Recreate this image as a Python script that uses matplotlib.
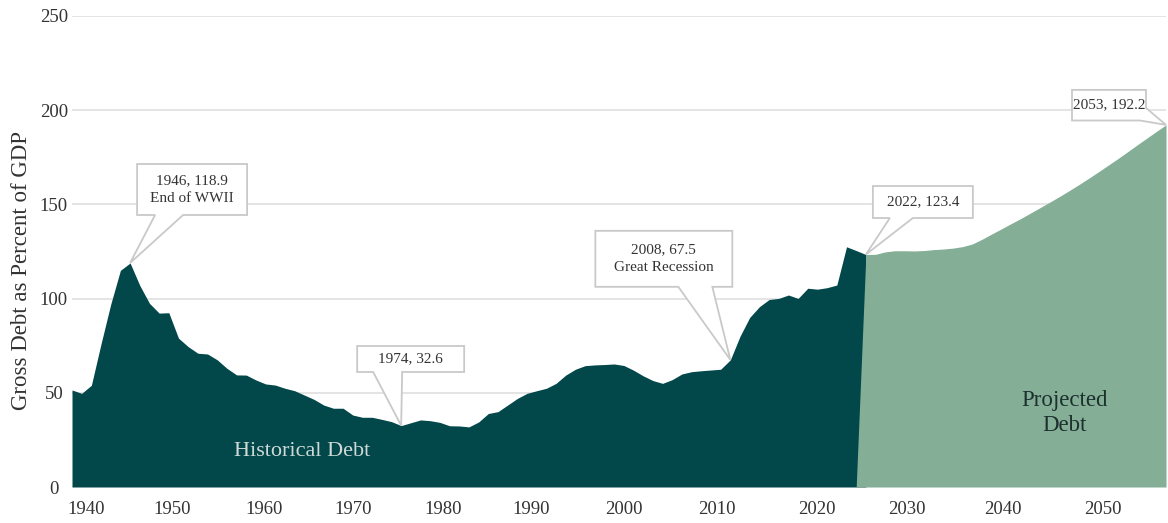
import matplotlib
matplotlib.use("Agg")
import matplotlib.pyplot as plt
import matplotlib.transforms as mtransforms
from matplotlib.patches import Polygon

# ---------------- data ----------------
hist_years = list(range(1940, 2023))
hist_vals = [51.5, 49.7, 54.0, 76.0, 97.0, 115.0, 118.9, 107.0, 97.5, 92.3,
             92.5, 79.0, 74.5, 71.0, 70.6, 67.5, 63.0, 59.5, 59.4, 56.8,
             54.7, 54.1, 52.4, 51.1, 48.8, 46.5, 43.5, 41.8, 41.8, 38.2,
             37.0, 37.0, 35.9, 34.7, 32.6, 34.1, 35.6, 35.2, 34.3, 32.5,
             32.4, 31.9, 34.5, 39.0, 40.0, 43.5, 47.0, 49.7, 51.1, 52.4,
             55.0, 59.4, 62.5, 64.4, 64.8, 65.0, 65.3, 64.5, 62.0, 59.0,
             56.5, 55.0, 57.0, 60.0, 61.2, 61.7, 62.1, 62.5, 67.5, 80.0,
             90.0, 95.7, 99.5, 100.1, 101.9, 100.1, 105.5, 105.0, 105.8, 107.2,
             127.5, 125.5, 123.4]

proj_years = list(range(2021, 2054))
proj_vals = [0.0, 123.4, 123.5, 124.8, 125.4, 125.4, 125.3, 125.5, 126.0, 126.3,
             126.8, 127.6, 129.0, 131.5, 134.3, 137.0, 139.8, 142.5, 145.4, 148.3,
             151.2, 154.2, 157.3, 160.5, 163.8, 167.2, 170.7, 174.2, 177.8, 181.5,
             185.1, 188.7, 192.2]

ann_years = [1946, 1974, 2008, 2022, 2053]
ann_vals = [118.9, 32.6, 67.5, 123.4, 192.2]
ann_texts = ["1946, 118.9\nEnd of WWII", "1974, 32.6",
             "2008, 67.5\nGreat Recession", "2022, 123.4", "2053, 192.2"]

y_ticks = [0, 50, 100, 150, 200, 250]
x_tick_labels = ["1940", "1950", "1960", "1970", "1980", "1990",
                 "2000", "2010", "2020", "2030", "2040", "2050"]

# ---------------- layout / style ----------------
FONT = ["Liberation Serif", "DejaVu Serif"]
plt.rcParams["font.family"] = FONT
DARK = "#02474A"
LIGHT = "#85AE97"
GRID = "#e2e2e2"
TXT = "#333333"

W, H = 1168, 523
fig = plt.figure(figsize=(W / 100, H / 100), dpi=100)
ax = fig.add_axes([72 / W, 36 / H, 1094 / W, 471 / H])
ax.set_xlim(1940, 2053)
ax.set_ylim(0, 250)

ax.fill_between(hist_years, hist_vals, 0, color=DARK, lw=0, zorder=2)
ax.fill_between(proj_years, proj_vals, 0, color=LIGHT, lw=0, zorder=3)

for s in ax.spines.values():
    s.set_visible(False)
ax.set_yticks(y_ticks)
ax.yaxis.grid(True, color=GRID, lw=1.3, zorder=0)
ax.set_axisbelow(True)
ax.tick_params(axis="y", length=0, pad=13, labelsize=13.5, labelcolor=TXT)
for lbl in ax.get_yticklabels():
    lbl.set_horizontalalignment("center")

# x tick labels (placed at the reference's label positions, in pixel terms)
label_px = [85.7, 172.4, 263.7, 352.7, 443.2, 530.7, 623.5, 717.3, 816.4, 906.9, 1002.6, 1102.4]
tick_pos = [1940 + (p - 72) / 1094 * 113 for p in label_px]
ax.set_xticks(tick_pos)
ax.set_xticklabels(x_tick_labels)
ax.tick_params(axis="x", length=0, pad=10, labelsize=13.5, labelcolor=TXT)

ax.set_ylabel("Gross Debt as Percent of GDP", fontsize=16.5, color=TXT)
ax.yaxis.set_label_coords(-0.037, 0.459)

ax.text(0.210, 0.076, "Historical Debt", transform=ax.transAxes, ha="center",
        va="center", fontsize=16, color="#cfdad8", zorder=5)
ax.text(0.907, 0.157, "Projected\nDebt", transform=ax.transAxes, ha="center",
        va="center", fontsize=16.5, color="#1c302d", linespacing=1.25, zorder=5)

# callouts: geometry in pixels relative to the anchor (y up)
callouts = [
    dict(box=(7, 117, 48, 99), wedge=(25, 53), side="bottom", tc=(62, 73.5)),
    dict(box=(-44, 63, 53.6, 79.6), wedge=(-28, 1), side="bottom", tc=(9.5, 66.6)),
    dict(box=(-135, 2, 73, 129), wedge=(-52, -18), side="bottom", tc=(-66.7, 101)),
    dict(box=(7, 107, 36.5, 68.5), wedge=(24, 47), side="bottom", tc=(57, 52.5)),
    dict(box=(-94, -20, 4.4, 35), wedge=(17, -26), side="right", tc=(-57, 20)),
]

for yr, val, txt, c in zip(ann_years, ann_vals, ann_texts, callouts):
    l, r, b, t = c["box"]
    w1, w2 = c["wedge"]
    if c["side"] == "bottom":
        verts = [(l, t), (r, t), (r, b), (w2, b), (0, 0), (w1, b), (l, b)]
    else:
        verts = [(l, t), (r, t), (r, w1), (0, 0), (w2, b), (l, b)]
    verts = [(x / 100, y / 100) for x, y in verts]
    trans = fig.dpi_scale_trans + mtransforms.ScaledTranslation(yr, val, ax.transData)
    poly = Polygon(verts, closed=True, transform=trans, facecolor="white",
                   edgecolor="#c9c9c9", lw=1.3, zorder=6, clip_on=False)
    ax.add_patch(poly)
    ax.annotate(txt, xy=(yr, val), xytext=c["tc"], textcoords="offset pixels",
                ha="center", va="center", fontsize=11, color="#333333",
                linespacing=1.45, zorder=7, annotation_clip=False)

fig.savefig("out.png", dpi=100, facecolor="white")
